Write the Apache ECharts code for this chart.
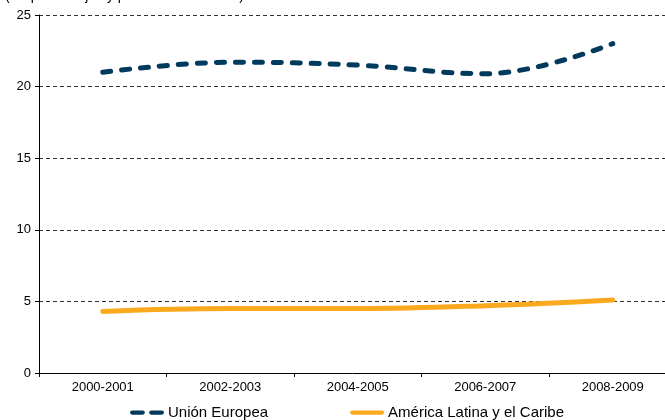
<!DOCTYPE html>
<html>
<head>
<meta charset="utf-8">
<script src="https://cdn.jsdelivr.net/npm/echarts@6/dist/echarts.min.js"></script>
<style>
  html, body { margin: 0; padding: 0; background: #fff; }
  #chart { width: 665px; height: 420px; }
</style>
</head>
<body>
<div id="chart"></div>
<script>
// 数据
var periodos = ['2000-2001', '2002-2003', '2004-2005', '2006-2007', '2008-2009'];
var unionEuropea = [21.0, 21.7, 21.5, 20.9, 23.0];
var americaLatina = [4.3, 4.5, 4.5, 4.7, 5.1];
var yTicks = [0, 5, 10, 15, 20, 25];

var myChart = echarts.init(document.getElementById('chart'));

// 图例图标：两段虚线 / 实线
var dashIcon = 'path://M2,0 h10 a2,2 0 0 1 0,4 h-10 a2,2 0 0 1 0,-4 z M20,0 h10 a2,2 0 0 1 0,4 h-10 a2,2 0 0 1 0,-4 z';
var solidIcon = 'path://M2,0 h28 a2,2 0 0 1 0,4 h-28 a2,2 0 0 1 0,-4 z';

var option = {
  animation: false,
  textStyle: { fontFamily: 'Liberation Sans, Arial, sans-serif' },
  title: {
    text: '(En porcentajes y promedios bienales)',
    left: 0,
    top: -16,
    textStyle: { fontSize: 14, fontWeight: 'normal', color: '#000' }
  },
  legend: {
    bottom: -5,
    left: 125,
    itemWidth: 34,
    itemHeight: 5,
    itemGap: 82,
    textStyle: { fontSize: 15, color: '#000', padding: [0, 0, 0, -1] },
    data: [
      { name: 'Unión Europea', icon: dashIcon },
      { name: 'América Latina y el Caribe', icon: solidIcon }
    ]
  },
  grid: {
    left: 39,
    top: 15,
    width: 637.5,
    bottom: 47,
    containLabel: false,
    outerBoundsMode: 'none'
  },
  xAxis: {
    type: 'category',
    data: periodos,
    boundaryGap: true,
    axisLine: { lineStyle: { color: '#000', width: 1 } },
    axisTick: { show: true, length: 4, lineStyle: { color: '#000' } },
    axisLabel: { color: '#000', fontSize: 13, margin: 8 }
  },
  yAxis: {
    type: 'value',
    min: yTicks[0],
    max: yTicks[yTicks.length - 1],
    interval: 5,
    axisLine: { show: true, lineStyle: { color: '#000', width: 1 } },
    axisTick: { show: true, length: 4, lineStyle: { color: '#000' } },
    axisLabel: { color: '#000', fontSize: 13, margin: 8 },
    splitLine: {
      lineStyle: { color: '#333', width: 1, type: [4, 3] }
    }
  },
  series: [
    {
      name: 'Unión Europea',
      type: 'line',
      smooth: 0.4,
      symbol: 'none',
      data: unionEuropea,
      color: '#003a5d',
      lineStyle: { color: '#003a5d', width: 5, type: [8, 11], cap: 'round' }
    },
    {
      name: 'América Latina y el Caribe',
      type: 'line',
      smooth: 0.4,
      symbol: 'none',
      data: americaLatina,
      color: '#fbaa1f',
      lineStyle: { color: '#fbaa1f', width: 5, cap: 'round' }
    }
  ]
};

myChart.setOption(option);
</script>
</body>
</html>
